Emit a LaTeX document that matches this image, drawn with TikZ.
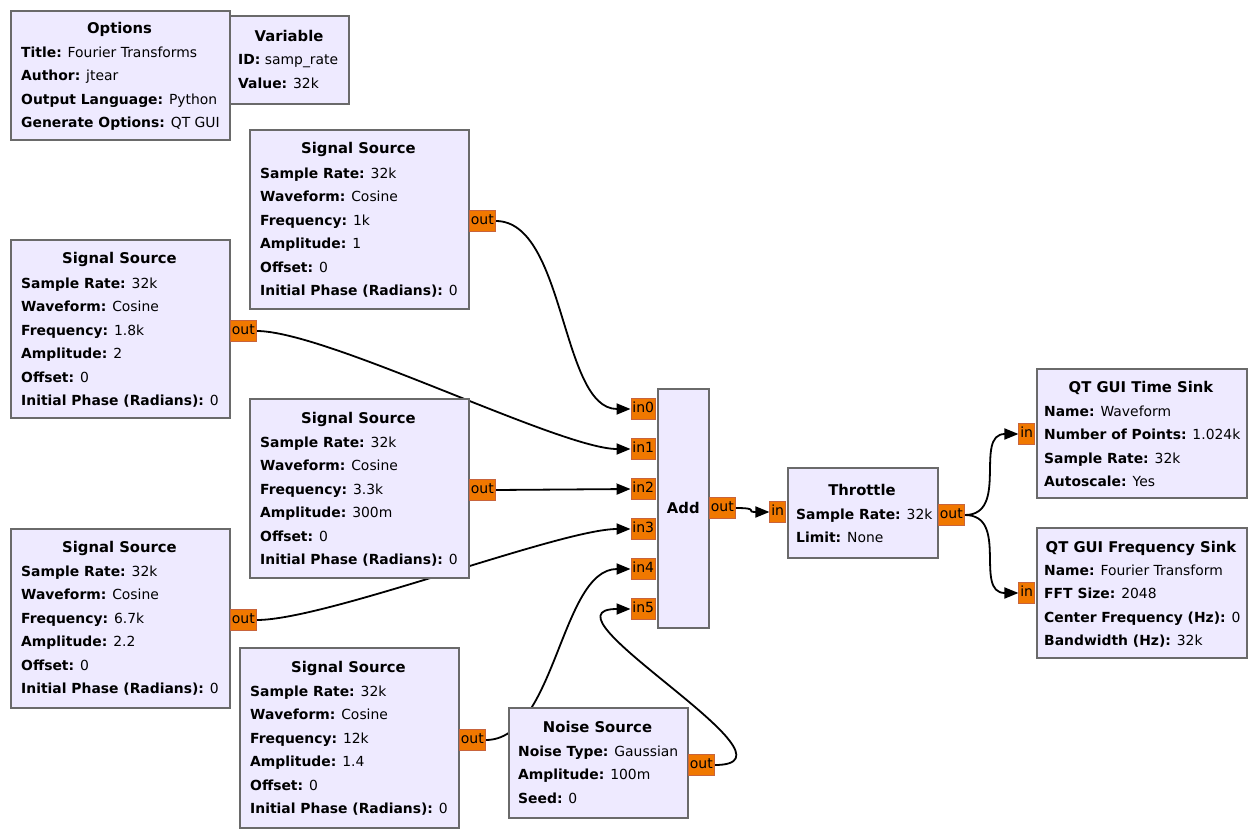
\documentclass[tikz,border=0pt]{standalone}
\usepackage{fontspec}
\setmainfont{DejaVu Sans}
\usetikzlibrary{arrows.meta,backgrounds}

\tikzset{
  block/.style={draw=blockBorder, fill=blockFill, line width=1.6pt, anchor=north west, inner sep=0pt},
  port/.style={draw=portBorder, fill=portFill, line width=0.8pt, inner xsep=1.5pt, inner ysep=0pt,
    minimum height=21pt, text height=10pt, text depth=3pt, font=\fontsize{14}{16}\selectfont},
  title/.style={anchor=base, inner sep=0pt, font=\fontsize{14.8}{16}\selectfont\bfseries},
  params/.style={anchor=north west, align=left, inner sep=0pt, font=\fontsize{13.9}{23.5}\selectfont},
  wire/.style={line width=1.8pt, -{Triangle[length=14pt,width=11pt]}}
}

\begin{document}
\begin{tikzpicture}[x=1pt,y=-1pt]
    % Define colours
    \definecolor{blockFill}{HTML}{EEEAFF}
    \definecolor{blockBorder}{HTML}{6A6A6A}
    \definecolor{portFill}{HTML}{F07800}
    \definecolor{portBorder}{HTML}{C8643C}

    \useasboundingbox (0,0) rectangle (1256,837);

    % Variable and options
    \node[block, minimum width=119pt, minimum height=88pt] (var) at (229,15) {};
    \node[title] at (289,42) {Variable};
    \node[params] at (238,54.4) {\textbf{ID:} samp\_rate\\\textbf{Value:} 32k};

    \node[block, minimum width=219pt, minimum height=129pt] (opts) at (10,10) {};
    \node[title] at (119.5,34) {Options};
    \node[params] at (21,46.4) {\textbf{Title:} Fourier Transforms\\\textbf{Author:} jtear\\
      \textbf{Output Language:} Python\\\textbf{Generate Options:} QT GUI};

    % Signal sources
    \node[block, minimum width=219pt, minimum height=179pt] (src1) at (249,129) {};
    \node[title] at (358.5,154) {Signal Source};
    \node[params] at (260,167.4) {\textbf{Sample Rate:} 32k\\\textbf{Waveform:} Cosine\\
      \textbf{Frequency:} 1k\\\textbf{Amplitude:} 1\\\textbf{Offset:} 0\\\textbf{Initial Phase (Radians):} 0};
    \node[port, anchor=west] (src1out) at (469,221) {out};

    \node[block, minimum width=219pt, minimum height=178pt] (src2) at (10,239) {};
    \node[title] at (119.5,264) {Signal Source};
    \node[params] at (21,277.4) {\textbf{Sample Rate:} 32k\\\textbf{Waveform:} Cosine\\
      \textbf{Frequency:} 1.8k\\\textbf{Amplitude:} 2\\\textbf{Offset:} 0\\\textbf{Initial Phase (Radians):} 0};
    \node[port, anchor=west] (src2out) at (230,331) {out};

    \node[block, minimum width=219pt, minimum height=179pt] (src3) at (249,398) {};
    \node[title] at (358.5,423) {Signal Source};
    \node[params] at (260,436.4) {\textbf{Sample Rate:} 32k\\\textbf{Waveform:} Cosine\\
      \textbf{Frequency:} 3.3k\\\textbf{Amplitude:} 300m\\\textbf{Offset:} 0\\\textbf{Initial Phase (Radians):} 0};
    \node[port, anchor=west] (src3out) at (469,490) {out};

    \node[block, minimum width=219pt, minimum height=179pt] (src4) at (10,528) {};
    \node[title] at (119.5,552) {Signal Source};
    \node[params] at (21,565.4) {\textbf{Sample Rate:} 32k\\\textbf{Waveform:} Cosine\\
      \textbf{Frequency:} 6.7k\\\textbf{Amplitude:} 2.2\\\textbf{Offset:} 0\\\textbf{Initial Phase (Radians):} 0};
    \node[port, anchor=west] (src4out) at (230,620) {out};

    \node[block, minimum width=219pt, minimum height=180pt] (src5) at (239,647) {};
    \node[title] at (348.5,672) {Signal Source};
    \node[params] at (250,685.4) {\textbf{Sample Rate:} 32k\\\textbf{Waveform:} Cosine\\
      \textbf{Frequency:} 12k\\\textbf{Amplitude:} 1.4\\\textbf{Offset:} 0\\\textbf{Initial Phase (Radians):} 0};
    \node[port, anchor=west] (src5out) at (459,740) {out};

    % Noise source
    \node[block, minimum width=179pt, minimum height=110pt] (noise) at (508,707) {};
    \node[title] at (597.5,732) {Noise Source};
    \node[params] at (518,745.4) {\textbf{Noise Type:} Gaussian\\\textbf{Amplitude:} 100m\\\textbf{Seed:} 0};
    \node[port, anchor=west] (noiseout) at (688,765) {out};

    % Add block
    \node[block, minimum width=51pt, minimum height=239pt] (add) at (657,388) {};
    \node[title, anchor=center] at (add.center) {Add};
    \foreach \i in {0,...,5}
        \node[port, anchor=east] (in\i) at (656,{409+40*\i}) {in\i};
    \node[port, anchor=west] (addout) at (709,508) {out};

    % Throttle
    \node[block, minimum width=150pt, minimum height=90pt] (throttle) at (787,467) {};
    \node[title] at (862,495) {Throttle};
    \node[params] at (796,508.4) {\textbf{Sample Rate:} 32k\\\textbf{Limit:} None};
    \node[port, anchor=east] (throttlein) at (786,512) {in};
    \node[port, anchor=west] (throttleout) at (938,515) {out};

    % Sinks
    \node[block, minimum width=210pt, minimum height=129pt] (timesink) at (1036,368) {};
    \node[title] at (1141,392) {QT GUI Time Sink};
    \node[params] at (1044,405.4) {\textbf{Name:} Waveform\\\textbf{Number of Points:} 1.024k\\
      \textbf{Sample Rate:} 32k\\\textbf{Autoscale:} Yes};
    \node[port, anchor=east] (timein) at (1035,434) {in};

    \node[block, minimum width=210pt, minimum height=130pt] (freqsink) at (1036,527) {};
    \node[title] at (1141,552) {QT GUI Frequency Sink};
    \node[params] at (1044,564.4) {\textbf{Name:} Fourier Transform\\\textbf{FFT Size:} 2048\\
      \textbf{Center Frequency (Hz):} 0\\\textbf{Bandwidth (Hz):} 32k};
    \node[port, anchor=east] (freqin) at (1035,593) {in};

    % Connections (behind the blocks)
    \begin{pgfonlayer}{background}
        \fill[white] (0,0) rectangle (1256,837);
        \draw[wire] (src1out.east) .. controls +(70,0) and +(-70,0) .. (in0.west);
        \draw[wire] (src2out.east) .. controls +(70,0) and +(-70,0) .. (in1.west);
        \draw[wire] (src3out.east) -- (in2.west);
        \draw[wire] (src4out.east) .. controls +(70,0) and +(-70,0) .. (in3.west);
        \draw[wire] (src5out.east) .. controls +(70,0) and +(-70,0) .. (in4.west);
        \draw[wire] (noiseout.east) .. controls +(100,0) and +(-100,0) .. (in5.west);
        \draw[wire] (addout.east) .. controls +(25,0) and +(-25,0) .. (throttlein.west);
        \draw[wire] (throttleout.east) .. controls +(45,0) and +(-45,0) .. (timein.west);
        \draw[wire] (throttleout.east) .. controls +(45,0) and +(-45,0) .. (freqin.west);
    \end{pgfonlayer}

\end{tikzpicture}
\end{document}
